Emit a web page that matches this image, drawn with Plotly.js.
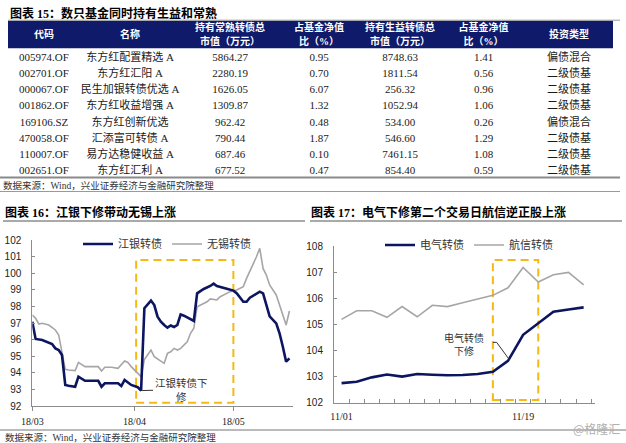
<!DOCTYPE html>
<html><head><meta charset="utf-8">
<script src="https://cdn.plot.ly/plotly-3.0.1.min.js"></script>
<style>html,body{margin:0;padding:0;background:#fff}#chart{width:626px;height:443px}</style>
</head><body><div id="chart"></div>
<script>
// ---------- Table 15 data ----------
const tableHeaders = ['代码','名称','持有常熟转债总<br>市值（万元）','占基金净值<br>比（%）','持有生益转债总<br>市值（万元）','占基金净值<br>比（%）','投资类型'];
const fundCodes = ['005974.OF','002701.OF','000067.OF','001862.OF','169106.SZ','470058.OF','110007.OF','002651.OF'];
const fundNames = ['东方红配置精选 A','东方红汇阳 A','民生加银转债优选 A','东方红收益增强 A','东方红创新优选','汇添富可转债 A','易方达稳健收益 A','东方红汇利 A'];
const changshuValue = [5864.27, 2280.19, 1626.05, 1309.87, 962.42, 790.44, 687.46, 677.52];
const changshuPct = [0.95, 0.70, 6.07, 1.32, 0.48, 1.87, 0.10, 0.47];
const shengyiValue = [8748.63, 1811.54, 256.32, 1052.94, 534.00, 546.60, 7461.15, 854.40];
const shengyiPct = [1.41, 0.56, 0.96, 1.06, 0.26, 1.29, 1.08, 0.59];
const investType = ['偏债混合','二级债基','二级债基','二级债基','偏债混合','二级债基','二级债基','二级债基'];

// ---------- Chart 16 data ----------
const jyDates = ['2018-03-01','2018-03-02','2018-03-04','2018-03-06','2018-03-07','2018-03-08','2018-03-09','2018-03-10','2018-03-11','2018-03-12','2018-03-14','2018-03-15','2018-03-17','2018-03-19','2018-03-21','2018-03-22','2018-03-23','2018-03-25','2018-03-27','2018-03-28','2018-03-29','2018-03-31','2018-04-02','2018-04-03','2018-04-04','2018-04-06','2018-04-07','2018-04-08','2018-04-09','2018-04-10','2018-04-11','2018-04-12','2018-04-13','2018-04-14','2018-04-15','2018-04-16','2018-04-18','2018-04-19','2018-04-20','2018-04-22','2018-04-24','2018-04-25','2018-04-26','2018-04-27','2018-04-29','2018-05-01','2018-05-02','2018-05-04','2018-05-05','2018-05-06','2018-05-08','2018-05-09','2018-05-10','2018-05-11','2018-05-12','2018-05-14','2018-05-15','2018-05-16','2018-05-17','2018-05-18'];
const jyValues = [97.08,96.04,95.98,95.84,95.73,95.47,95.37,95.07,93.27,93.22,93.16,93.77,93.52,93.52,93.52,93.16,93.37,93.37,93.37,93.2,93.57,93.27,93.13,92.93,97.89,98.35,98.08,97.38,97.08,96.88,96.72,96.85,96.76,96.88,97.52,97.44,97.24,97.12,98.79,99.05,99.23,99.37,99.23,99.19,99.07,98.95,98.79,98.28,98.28,98.52,98.79,98.89,98.79,98.08,97.4,96.98,96.38,95.57,94.67,94.87];
const wxDates = ['2018-03-01','2018-03-02','2018-03-03','2018-03-04','2018-03-06','2018-03-08','2018-03-09','2018-03-10','2018-03-11','2018-03-12','2018-03-14','2018-03-15','2018-03-17','2018-03-19','2018-03-21','2018-03-22','2018-03-23','2018-03-25','2018-03-27','2018-03-29','2018-03-30','2018-03-31','2018-04-01','2018-04-03','2018-04-04','2018-04-05','2018-04-06','2018-04-07','2018-04-08','2018-04-10','2018-04-11','2018-04-12','2018-04-13','2018-04-14','2018-04-15','2018-04-17','2018-04-18','2018-04-19','2018-04-20','2018-04-21','2018-04-23','2018-04-24','2018-04-26','2018-04-27','2018-04-29','2018-04-30','2018-05-02','2018-05-04','2018-05-05','2018-05-07','2018-05-08','2018-05-09','2018-05-10','2018-05-11','2018-05-12','2018-05-14','2018-05-15','2018-05-16','2018-05-17','2018-05-18'];
const wxValues = [97.48,97.28,96.94,96.98,96.88,96.58,96.28,95.27,94.21,94.17,94.13,94.63,94.37,94.37,94.37,94.11,94.33,94.33,94.27,94.71,94.62,94.37,94.17,93.77,94.8,95.07,95.37,94.97,94.85,94.57,95.17,95.27,95.47,95.37,95.47,95.87,96.38,96.68,97.98,98.08,98.28,98.45,98.39,98.58,98.79,98.89,98.99,99.19,99.69,100.49,100.99,101.5,100.29,99.89,99.29,98.69,98.08,97.58,96.88,97.72];

// ---------- Chart 17 data ----------
const tradeDays = ['11/01','11/02','11/05','11/06','11/07','11/08','11/09','11/12','11/13','11/14','11/15','11/16','11/19','11/20','11/21','11/22','11/23'];
const shownDayLabels = ['11/01','11/19'];
const dqValues = [102.75,102.8,102.97,103.08,103.0,103.1,103.07,103.05,103.06,103.1,103.18,103.6,104.6,105.05,105.48,105.57,105.65];
const hxValues = [105.19,105.52,105.52,105.27,105.68,105.29,105.73,105.68,105.83,105.96,106.11,106.4,107.18,106.62,106.9,106.99,106.51];

// ---------- styling ----------
const W = 626, H = 443;
const px = x => x / W, py = y => 1 - y / H;
const NAVY = '#0c1560', GRAY = '#a6a6a6', GOLD = '#f4b914', AXIS = '#8c8c8c', HEAD = '#101a6a';
const SERIF = '"Liberation Serif","Noto Sans CJK SC",serif';
const SANS = '"Liberation Sans","Noto Sans CJK SC",sans-serif';
const CJK = '"Noto Sans CJK SC","Liberation Sans",sans-serif';
const CLEAR = 'rgba(0,0,0,0)';
const f2 = a => a.map(v => v.toFixed(2));
const noWrap = a => a.map(s => s.replace(/ /g, '\u00a0'));
const colWidths = [72, 100, 100, 78, 84, 83, 88];
const tableX = [px(8), px(613)];
const isTwoLine = h => h.includes('<br>');

const headerFont = {family: SERIF, size: 10, color: '#ffffff', weight: 'bold'};
// header labels of two lines (each line its own header row so each is centred)
const headerTwoLine = {
  type: 'table', domain: {x: tableX, y: [py(60), py(15.5)]}, columnwidth: colWidths,
  header: {values: tableHeaders.map(h => isTwoLine(h) ? h.split('<br>') : ['', '']), fill: {color: CLEAR},
           line: {width: 0, color: CLEAR}, font: headerFont, align: 'center', height: 14},
  cells: {values: [], fill: {color: CLEAR}, line: {width: 0, color: CLEAR}}
};
// header labels of one line (vertically centred)
const headerOneLine = {
  type: 'table', domain: {x: tableX, y: [py(60), py(22)]}, columnwidth: colWidths,
  header: {values: tableHeaders.map(h => isTwoLine(h) ? '' : h), fill: {color: CLEAR},
           line: {width: 0, color: CLEAR}, font: headerFont, align: 'center', height: 20},
  cells: {values: [], fill: {color: CLEAR}, line: {width: 0, color: CLEAR}}
};
// body cells
const bodyTable = {
  type: 'table', domain: {x: tableX, y: [py(178), py(43.3)]}, columnwidth: colWidths,
  header: {values: colWidths.map(() => ''), fill: {color: CLEAR}, line: {width: 0, color: CLEAR}, height: 1,
           font: {family: SERIF, size: 1, color: CLEAR}},
  cells: {
    values: [fundCodes, noWrap(fundNames), f2(changshuValue), f2(changshuPct), f2(shengyiValue), f2(shengyiPct), investType],
    fill: {color: CLEAR}, line: {width: 0, color: CLEAR},
    font: {family: SERIF, size: 11, color: '#1a1a1a'}, align: 'center', height: 16.25
  }
};

const traces = [
  headerTwoLine, headerOneLine, bodyTable,
  {type: 'scatter', mode: 'lines', x: wxDates, y: wxValues, name: '无锡转债', xaxis: 'x', yaxis: 'y',
   line: {color: GRAY, width: 1.6}, legend: 'legend'},
  {type: 'scatter', mode: 'lines', x: jyDates, y: jyValues, name: '江银转债', xaxis: 'x', yaxis: 'y',
   line: {color: NAVY, width: 2.6}, legend: 'legend'},
  {type: 'scatter', mode: 'lines', x: tradeDays, y: hxValues, name: '航信转债', xaxis: 'x2', yaxis: 'y2',
   line: {color: GRAY, width: 1.6}, legend: 'legend2'},
  {type: 'scatter', mode: 'lines', x: tradeDays, y: dqValues, name: '电气转债', xaxis: 'x2', yaxis: 'y2',
   line: {color: NAVY, width: 2.6}, legend: 'legend2'}
];

const hline = (x0, x1, y, color, width) => ({type: 'line', xref: 'paper', yref: 'paper',
  x0: px(x0), x1: px(x1), y0: py(y), y1: py(y), line: {color: color, width: width}});

const layout = {
  width: W, height: H, margin: {l: 0, r: 0, t: 0, b: 0},
  paper_bgcolor: '#fff', plot_bgcolor: CLEAR,
  showlegend: true,
  xaxis: {
    domain: [px(32.3), px(293)], type: 'date',
    range: ['2018-03-01', '2018-05-19 02:00'],
    tick0: '2018-03-01', dtick: 'M1', tickformat: '%y/%m', tickangle: 0,
    ticks: 'outside', ticklen: 4, tickcolor: AXIS,
    showline: true, linecolor: AXIS, linewidth: 1, showgrid: false, zeroline: false,
    tickfont: {family: SERIF, size: 10, color: '#222'}, ticklabelstandoff: 2, fixedrange: true
  },
  yaxis: {
    domain: [py(406), py(240)], range: [92, 102], dtick: 1,
    ticks: 'inside', ticklen: 3, tickcolor: AXIS,
    showline: true, linecolor: AXIS, linewidth: 1, showgrid: false, zeroline: false,
    tickfont: {family: SANS, size: 10, color: '#222'}, ticklabelstandoff: 8, fixedrange: true
  },
  xaxis2: {
    domain: [px(334), px(595)], anchor: 'y2', type: 'category',
    categoryorder: 'array', categoryarray: tradeDays, range: [-0.5, 16.75],
    tickmode: 'array', tickvals: tradeDays, tickangle: 0,
    ticktext: tradeDays.map(d => shownDayLabels.includes(d) ? d : ''),
    tickson: 'boundaries', ticks: 'inside', ticklen: 4, tickcolor: AXIS,
    showline: true, linecolor: AXIS, linewidth: 1, showgrid: false, zeroline: false,
    tickfont: {family: SERIF, size: 10, color: '#222'}, ticklabelstandoff: 4, fixedrange: true
  },
  yaxis2: {
    domain: [py(402.7), py(246)], anchor: 'x2', range: [102, 108], dtick: 1,
    ticks: 'inside', ticklen: 3, tickcolor: AXIS,
    showline: true, linecolor: AXIS, linewidth: 1, showgrid: false, zeroline: false,
    tickfont: {family: SANS, size: 10, color: '#222'}, ticklabelstandoff: 8, fixedrange: true
  },
  legend: {
    orientation: 'h', x: px(78), y: py(244), xanchor: 'left', yanchor: 'middle',
    font: {family: CJK, size: 11, color: '#333'}, bgcolor: CLEAR,
    itemwidth: 30, traceorder: 'reversed'
  },
  legend2: {
    orientation: 'h', x: px(380), y: py(245), xanchor: 'left', yanchor: 'middle',
    font: {family: CJK, size: 11, color: '#333'}, bgcolor: CLEAR,
    itemwidth: 30, traceorder: 'reversed'
  },
  shapes: [
    {type: 'rect', xref: 'paper', yref: 'paper', x0: px(8), x1: px(613), y0: py(48.3), y1: py(20.7),
     fillcolor: HEAD, line: {width: 0}, layer: 'below'},
    hline(8, 620, 20.2, '#9a9a9a', 1),
    hline(0, 620, 177.5, '#8a8a8a', 2),
    hline(0, 620, 191.5, '#9a9a9a', 1),
    hline(3, 305, 221, '#555', 1),
    hline(310, 622, 221, '#555', 1),
    hline(0, 626, 430, '#777', 1),
    {type: 'rect', xref: 'x', yref: 'y', x0: '2018-04-01 12:00', x1: '2018-05-01', y0: 92.2, y1: 100.8,
     line: {color: GOLD, width: 2, dash: '8px,5px'}, fillcolor: CLEAR, layer: 'below'},
    {type: 'rect', xref: 'x2', yref: 'y2', x0: 10, x1: 13, y0: 102.1, y1: 107.46,
     line: {color: GOLD, width: 2, dash: '8px,5px'}, fillcolor: CLEAR, layer: 'below'},
    {type: 'path', xref: 'x2', yref: 'y2', path: 'M10,104.31 L10.25,104.31 L11.1,103.64',
     line: {color: '#333', width: 1}}
  ],
  annotations: [
    {xref: 'paper', yref: 'paper', x: px(8), y: py(13), xanchor: 'left', yanchor: 'middle', showarrow: false,
     text: '<b>图表 15：数只基金同时持有生益和常熟</b>', font: {family: SERIF, size: 12, color: '#000'}},
    {xref: 'paper', yref: 'paper', x: px(1), y: py(185.5), xanchor: 'left', yanchor: 'middle', showarrow: false,
     text: '数据来源：Wind，兴业证券经济与金融研究院整理', font: {family: SERIF, size: 9.5, color: '#333'}},
    {xref: 'paper', yref: 'paper', x: px(3), y: py(212), xanchor: 'left', yanchor: 'middle', showarrow: false,
     text: '<b>图表 16：江银下修带动无锡上涨</b>', font: {family: SERIF, size: 12, color: '#000'}},
    {xref: 'paper', yref: 'paper', x: px(309), y: py(212), xanchor: 'left', yanchor: 'middle', showarrow: false,
     text: '<b>图表 17：电气下修第二个交易日航信逆正股上涨</b>', font: {family: SERIF, size: 12, color: '#000'}},
    {xref: 'paper', yref: 'paper', x: px(3), y: py(437), xanchor: 'left', yanchor: 'middle', showarrow: false,
     text: '数据来源：Wind，兴业证券经济与金融研究院整理', font: {family: SERIF, size: 9.5, color: '#333'}},
    {xref: 'paper', yref: 'paper', x: px(622), y: py(428), xanchor: 'right', yanchor: 'middle', showarrow: false,
     text: '@格隆汇', font: {family: CJK, size: 12, color: '#b0b0b0'}},
    {xref: 'x', yref: 'y', x: '2018-04-03', y: 92.93, ax: 40, ay: -1, showarrow: true, arrowhead: 0,
     arrowwidth: 1, arrowcolor: '#333', standoff: 1, align: 'center',
     text: '江银转债下<br>修', font: {family: CJK, size: 10.5, color: '#333'}},
    {xref: 'paper', yref: 'paper', x: px(464), y: py(343.5), xanchor: 'center', yanchor: 'middle', showarrow: false,
     align: 'center', text: '电气转债<br>下修', font: {family: CJK, size: 10, color: '#333'}}
  ]
};

Plotly.newPlot('chart', traces, layout, {staticPlot: true, displayModeBar: false});
</script>
</body></html>
